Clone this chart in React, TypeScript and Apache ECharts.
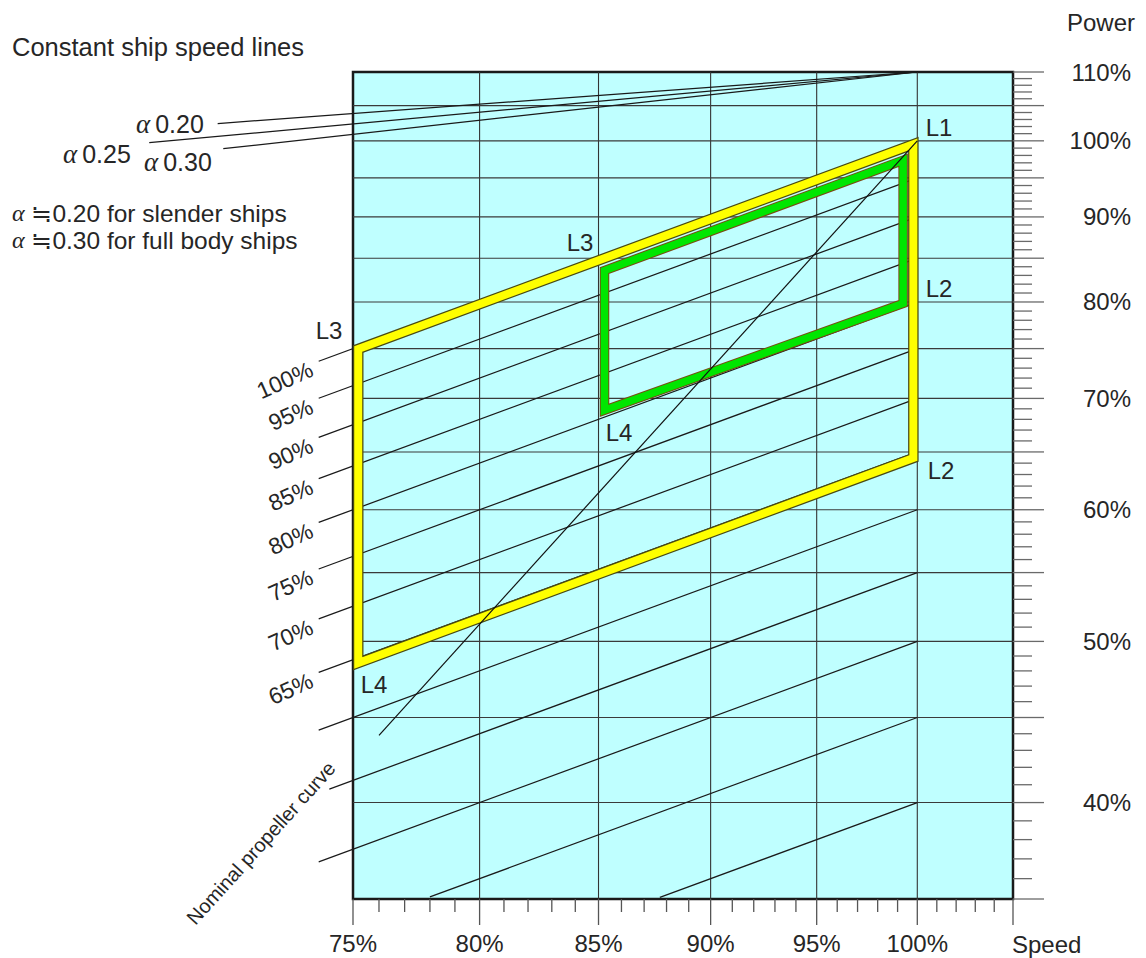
import React, { useEffect, useRef } from "react";
import * as echarts from "echarts";

// ---- axis ranges ----
const SPEED_MIN = 0.75;
const SPEED_MAX = 1.05;
const POWER_MIN = 0.35;
const POWER_MAX = 1.1;

// ---- grid lines ----
const speedGridLines = [0.8, 0.85, 0.9, 0.95, 1.0];
const powerGridLines = [1.05, 1.0, 0.95, 0.9, 0.85, 0.8, 0.75, 0.7, 0.65, 0.6, 0.55, 0.5, 0.45, 0.4];

// ---- tick labels ----
const speedLabelValues = [0.75, 0.8, 0.85, 0.9, 0.95, 1.0];
const speedLabelTexts = ["75%", "80%", "85%", "90%", "95%", "100%"];
const powerLabelValues = [1.1, 1.0, 0.9, 0.8, 0.7, 0.6, 0.5, 0.4];
const powerLabelTexts = ["110%", "100%", "90%", "80%", "70%", "60%", "50%", "40%"];

// ---- tick marks (percent) ----
const speedTickPercents = [75, 76, 77, 78, 79, 80, 81, 82, 83, 84, 85, 86, 87, 88, 89, 90, 91, 92, 93, 94, 95, 96, 97, 98, 99, 100, 101, 102, 103, 104, 105];
const powerTickPercents = [35, 36, 37, 38, 39, 40, 41, 42, 43, 44, 45, 46, 47, 48, 49, 50, 51, 52, 53, 54, 55, 56, 57, 58, 59, 60, 61, 62, 63, 64, 65, 66, 67, 68, 69, 70, 71, 72, 73, 74, 75, 76, 77, 78, 79, 80, 81, 82, 83, 84, 85, 86, 87, 88, 89, 90, 91, 92, 93, 94, 95, 96, 97, 98, 99, 100, 101, 102, 103, 104, 105, 106, 107, 108, 109, 110];

// ---- constant mean effective pressure lines: power = k * speed ----
const mepValues = [1.0, 0.95, 0.9, 0.85, 0.8, 0.75, 0.7, 0.65, 0.6, 0.55, 0.5, 0.45, 0.4];
const mepLabels = ["100%", "95%", "90%", "85%", "80%", "75%", "70%", "65%", "", "", "", "", ""];
const mepStartSpeed = [0.737, 0.737, 0.737, 0.737, 0.737, 0.737, 0.737, 0.737, 0.737, 0.741, 0.737, 0.78, 0.877];
const mepEndSpeed = 1.0;

// ---- constant ship speed lines: power = 1.10 * speed^alpha ----
const alphaValues = [0.2, 0.25, 0.3];
const alphaEndSpeed = [0.7, 0.676, 0.702];
const alphaPivotSpeed = 1.0;
const alphaPivotPower = 1.1;

// ---- nominal propeller curve ----
const propellerSpeed = [0.76, 1.0];
const propellerPower = [0.439, 1.0];

// ---- layout diagram L1-L2-L4-L3 (yellow) ----
const yellowSpeed = [0.998, 0.998, 0.752, 0.752];
const yellowPower = [0.9952, 0.6445, 0.4853, 0.7496];

// ---- green area ----
const greenSpeed = [0.9928, 0.9928, 0.8526, 0.8526];
const greenPower = [0.9735, 0.7984, 0.6886, 0.8356];

const FONT = "'Liberation Sans', Arial, Helvetica, sans-serif";
const TXT = "#262626";
const FS = 24;

export default function App() {
  const ref = useRef<HTMLDivElement>(null);

  useEffect(() => {
    if (!ref.current) return;
    const chart = echarts.init(ref.current, null, { renderer: "svg" });

    const lineEl = (a: number[], b: number[], stroke: string, lw: number) => ({
      type: "line",
      shape: { x1: a[0], y1: a[1], x2: b[0], y2: b[1] },
      style: { stroke, lineWidth: lw },
    });

    const series: any[] = [
      // vertical grid lines
      {
        type: "custom",
        silent: true,
        clip: false,
        z: 1,
        data: speedGridLines.map((v) => [v, 0.5]),
        renderItem: (params: any, api: any) => {
          const v = api.value(0);
          return lineEl(api.coord([v, POWER_MIN]), api.coord([v, POWER_MAX]), "#333", 1.1);
        },
      },
      // horizontal grid lines
      {
        type: "custom",
        silent: true,
        clip: false,
        z: 1,
        data: powerGridLines.map((v) => [0.9, v]),
        renderItem: (params: any, api: any) => {
          const v = api.value(1);
          return lineEl(api.coord([SPEED_MIN, v]), api.coord([SPEED_MAX, v]), "#3a3a3a", 1.1);
        },
      },
      // mep lines with labels
      {
        type: "custom",
        silent: true,
        clip: false,
        z: 2,
        data: mepValues.map((k, i) => [mepStartSpeed[i], k * mepStartSpeed[i]]),
        renderItem: (params: any, api: any) => {
          const i = params.dataIndex;
          const k = mepValues[i];
          const s0 = mepStartSpeed[i];
          const p0 = api.coord([s0, k * s0]);
          const p1 = api.coord([mepEndSpeed, k * mepEndSpeed]);
          const children: any[] = [lineEl(p0, p1, "#1a1a1a", 1.25)];
          if (mepLabels[i]) {
            children.push({
              type: "text",
              x: p0[0] - 7,
              y: p0[1] + 7,
              rotation: (24 * Math.PI) / 180,
              style: {
                text: mepLabels[i],
                align: "right",
                verticalAlign: "middle",
                fontSize: 23,
                fontFamily: FONT,
                fill: TXT,
              },
            });
          }
          return { type: "group", children };
        },
      },
      // constant ship speed lines
      {
        type: "custom",
        silent: true,
        clip: false,
        z: 2,
        data: alphaValues.map((a, i) => [alphaEndSpeed[i], 1]),
        renderItem: (params: any, api: any) => {
          const i = params.dataIndex;
          const a = alphaValues[i];
          const s = alphaEndSpeed[i];
          const p0 = api.coord([alphaPivotSpeed, alphaPivotPower]);
          const p1 = api.coord([s, alphaPivotPower * Math.pow(s / alphaPivotSpeed, a)]);
          return lineEl(p0, p1, "#1a1a1a", 1.25);
        },
      },
      // yellow layout diagram
      {
        type: "custom",
        silent: true,
        clip: false,
        z: 3,
        data: [[0.9, 0.8]],
        renderItem: (params: any, api: any) => {
          const pts = yellowSpeed.map((s, i) => api.coord([s, yellowPower[i]]));
          return {
            type: "group",
            children: [
              { type: "polygon", shape: { points: pts }, style: { fill: "none", stroke: "#4a4a12", lineWidth: 10.5, lineJoin: "miter", miterLimit: 20 } },
              { type: "polygon", shape: { points: pts }, style: { fill: "none", stroke: "#ffff00", lineWidth: 8, lineJoin: "miter", miterLimit: 20 } },
            ],
          };
        },
      },
      // green area
      {
        type: "custom",
        silent: true,
        clip: false,
        z: 3,
        data: [[0.9, 0.8]],
        renderItem: (params: any, api: any) => {
          const pts = greenSpeed.map((s, i) => api.coord([s, greenPower[i]]));
          return {
            type: "group",
            children: [
              { type: "polygon", shape: { points: pts }, style: { fill: "none", stroke: "#7a4a10", lineWidth: 9.5, lineJoin: "miter", miterLimit: 20 } },
              { type: "polygon", shape: { points: pts }, style: { fill: "none", stroke: "#00e600", lineWidth: 7.5, lineJoin: "miter", miterLimit: 20 } },
            ],
          };
        },
      },
      // propeller curve
      {
        type: "line",
        silent: true,
        clip: false,
        z: 4,
        symbol: "none",
        data: propellerSpeed.map((s, i) => [s, propellerPower[i]]),
        lineStyle: { color: "#111", width: 1.2 },
      },
      // bottom ticks
      {
        type: "custom",
        silent: true,
        clip: false,
        z: 2,
        data: speedTickPercents.map((p) => [p / 100, POWER_MIN]),
        renderItem: (params: any, api: any) => {
          const pc = speedTickPercents[params.dataIndex];
          const p = api.coord([pc / 100, POWER_MIN]);
          const len = pc % 5 === 0 ? 26 : 13;
          return lineEl([p[0], p[1]], [p[0], p[1] + len], "#555", 1.3);
        },
      },
      // bottom labels
      {
        type: "custom",
        silent: true,
        clip: false,
        z: 2,
        data: speedLabelValues.map((v) => [v, POWER_MIN]),
        renderItem: (params: any, api: any) => {
          const i = params.dataIndex;
          const p = api.coord([speedLabelValues[i], POWER_MIN]);
          return {
            type: "text",
            x: p[0],
            y: p[1] + 44,
            style: { text: speedLabelTexts[i], align: "center", verticalAlign: "middle", fontSize: FS, fontFamily: FONT, fill: TXT },
          };
        },
      },
      // right ticks
      {
        type: "custom",
        silent: true,
        clip: false,
        z: 2,
        data: powerTickPercents.map((p) => [SPEED_MAX, p / 100]),
        renderItem: (params: any, api: any) => {
          const pc = powerTickPercents[params.dataIndex];
          const p = api.coord([SPEED_MAX, pc / 100]);
          const len = pc % 5 === 0 ? 31 : 19;
          return lineEl([p[0], p[1]], [p[0] + len, p[1]], "#6a6a6a", 1.3);
        },
      },
      // right labels
      {
        type: "custom",
        silent: true,
        clip: false,
        z: 2,
        data: powerLabelValues.map((v) => [SPEED_MAX, v]),
        renderItem: (params: any, api: any) => {
          const i = params.dataIndex;
          const p = api.coord([SPEED_MAX, powerLabelValues[i]]);
          return {
            type: "text",
            x: p[0] + 118,
            y: p[1],
            style: { text: powerLabelTexts[i], align: "right", verticalAlign: "middle", fontSize: FS, fontFamily: FONT, fill: TXT },
          };
        },
      },
    ];

    const alphaRich = (size: number) => ({
      a: { fontFamily: "'Liberation Serif', 'DejaVu Serif', serif", fontStyle: "italic", fontSize: size, fill: TXT },
    });
    const txt = (text: string, x: number, y: number, extra: any = {}, richSize = 27) => ({
      type: "text",
      x,
      y,
      silent: true,
      style: { text, fontSize: 25, fontFamily: FONT, fill: TXT, verticalAlign: "middle", align: "left", rich: alphaRich(richSize), ...extra },
    });

    const option: any = {
      animation: false,
      backgroundColor: "#ffffff",
      grid: {
        left: 353,
        top: 72,
        width: 660,
        height: 827,
        show: true,
        backgroundColor: "#bfffff",
        borderColor: "#1a1a1a",
        borderWidth: 2.5,
      },
      xAxis: { type: "log", logBase: 10, min: SPEED_MIN, max: SPEED_MAX, show: false },
      yAxis: { type: "log", logBase: 10, min: POWER_MIN, max: POWER_MAX, show: false },
      series,
      graphic: [
        txt("Constant ship speed lines", 12, 47, { fontSize: 25.5 }),
        txt("{a|α}\u20090.20", 136, 124),
        txt("{a|α}\u20090.25", 63, 154),
        txt("{a|α}\u20090.30", 144, 162),
        txt("{a|α} ≒0.20 for slender ships", 12, 213, { fontSize: 24.5, lineHeight: 24 }, 24),
        txt("{a|α} ≒0.30 for full body ships", 12, 240, { fontSize: 24.5, lineHeight: 24 }, 24),
        txt("Power", 1067, 22, { fontSize: FS }),
        txt("Speed", 1012, 944, { fontSize: FS }),
        txt("Nominal propeller curve", 261, 843, { align: "center", fontSize: 20 }),
        txt("L1", 939, 127, { align: "center", fontSize: FS }),
        txt("L2", 939, 288, { align: "center", fontSize: FS }),
        txt("L2", 941, 470, { align: "center", fontSize: FS }),
        txt("L3", 329, 330, { align: "center", fontSize: FS }),
        txt("L3", 580, 242, { align: "center", fontSize: FS }),
        txt("L4", 619, 432, { align: "center", fontSize: FS }),
        txt("L4", 374, 684, { align: "center", fontSize: FS }),
      ].map((el: any) =>
        el.style.text === "Nominal propeller curve" ? { ...el, rotation: (48 * Math.PI) / 180 } : el
      ),
    };

    chart.setOption(option);
    return () => chart.dispose();
  }, []);

  return <div ref={ref} style={{ position: "fixed", left: 0, top: 0, width: 1146, height: 958 }} />;
}
